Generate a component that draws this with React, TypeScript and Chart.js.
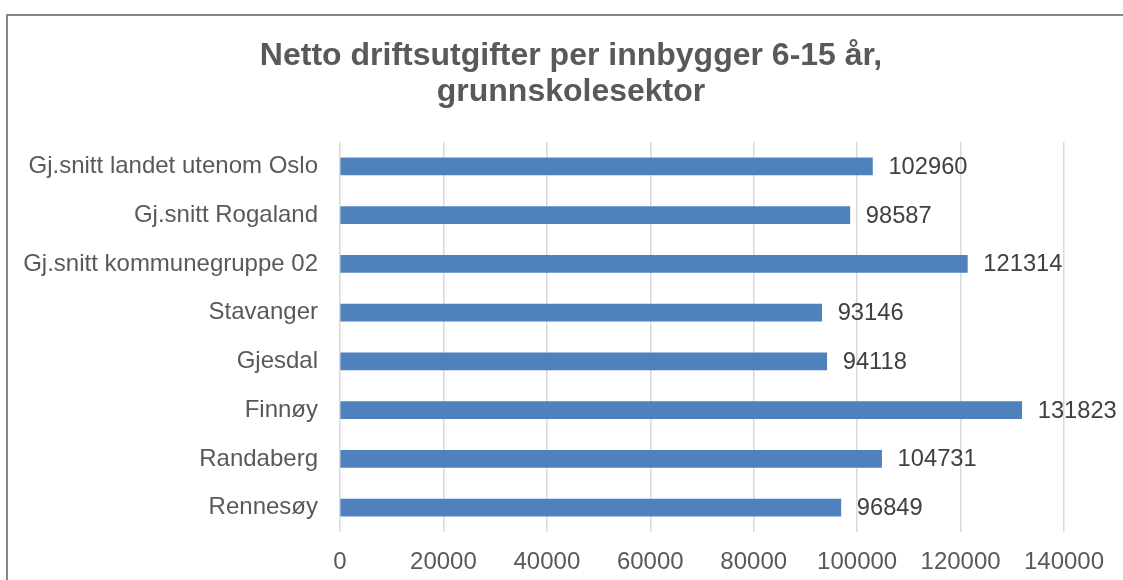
import React, { useEffect, useRef } from "react";
import { Chart, registerables } from "chart.js";

Chart.register(...registerables);

const categories: string[] = [
  "Gj.snitt landet utenom Oslo",
  "Gj.snitt Rogaland",
  "Gj.snitt kommunegruppe 02",
  "Stavanger",
  "Gjesdal",
  "Finnøy",
  "Randaberg",
  "Rennesøy",
];
const values: number[] = [102960, 98587, 121314, 93146, 94118, 131823, 104731, 96849];
const titleLines: string[] = ["Netto driftsutgifter per innbygger 6-15 år,", "grunnskolesektor"];
const axisMin = 0;
const axisMax = 140000;
const axisStep = 20000;

const FONT = "'Liberation Sans', Arial, sans-serif";

const frameAndTitlePlugin = {
  id: "frameAndTitle",
  beforeDraw(chart: any) {
    const ctx = chart.ctx;
    ctx.save();
    ctx.strokeStyle = "#878787";
    ctx.lineWidth = 2;
    ctx.strokeRect(7, 15, chart.width + 50, chart.height + 50);
    ctx.font = `bold 32px ${FONT}`;
    ctx.fillStyle = "#595959";
    ctx.textAlign = "center";
    ctx.textBaseline = "alphabetic";
    titleLines.forEach((line, i) => {
      ctx.fillText(line, 571, 65 + i * 36);
    });
    ctx.restore();
  },
};

const valueLabelPlugin = {
  id: "valueLabels",
  afterDatasetsDraw(chart: any) {
    const ctx = chart.ctx;
    const meta = chart.getDatasetMeta(0);
    const data = chart.data.datasets[0].data as number[];
    ctx.save();
    ctx.font = `23.7px ${FONT}`;
    ctx.fillStyle = "#404040";
    ctx.textAlign = "left";
    ctx.textBaseline = "middle";
    meta.data.forEach((bar: any, i: number) => {
      ctx.fillText(String(data[i]), bar.x + 16, bar.y + 1);
    });
    ctx.restore();
  },
};

export default function App() {
  const canvasRef = useRef<HTMLCanvasElement | null>(null);

  useEffect(() => {
    if (!canvasRef.current) return;
    const chart = new Chart(canvasRef.current, {
      type: "bar",
      data: {
        labels: categories,
        datasets: [
          {
            data: values,
            backgroundColor: "#4f81bd",
            borderWidth: 0,
            barThickness: 17,
          },
        ],
      },
      options: {
        indexAxis: "y",
        animation: false,
        responsive: true,
        maintainAspectRatio: false,
        layout: { padding: { left: 0, right: 59, top: 142, bottom: 0 } },
        plugins: {
          legend: { display: false },
          tooltip: { enabled: false },
          title: { display: false },
        },
        scales: {
          x: {
            min: axisMin,
            max: axisMax,
            border: { display: false },
            grid: { color: "#d9d9d9", lineWidth: 1.5, drawTicks: false },
            ticks: {
              stepSize: axisStep,
              padding: 16,
              color: "#595959",
              font: { family: FONT, size: 24 },
              callback: (v: any) => String(v),
            },
            afterFit: (scale: any) => {
              scale.height = 48;
            },
          },
          y: {
            border: { display: false },
            grid: { display: false, drawTicks: false },
            ticks: {
              padding: 22,
              color: "#595959",
              font: { family: FONT, size: 24 },
            },
            afterFit: (scale: any) => {
              scale.width = 340;
            },
          },
        },
      },
      plugins: [frameAndTitlePlugin, valueLabelPlugin],
    });
    return () => chart.destroy();
  }, []);

  return (
    <div style={{ position: "absolute", left: 0, top: 0, width: 1123, height: 580, background: "#fff" }}>
      <canvas ref={canvasRef} />
    </div>
  );
}
